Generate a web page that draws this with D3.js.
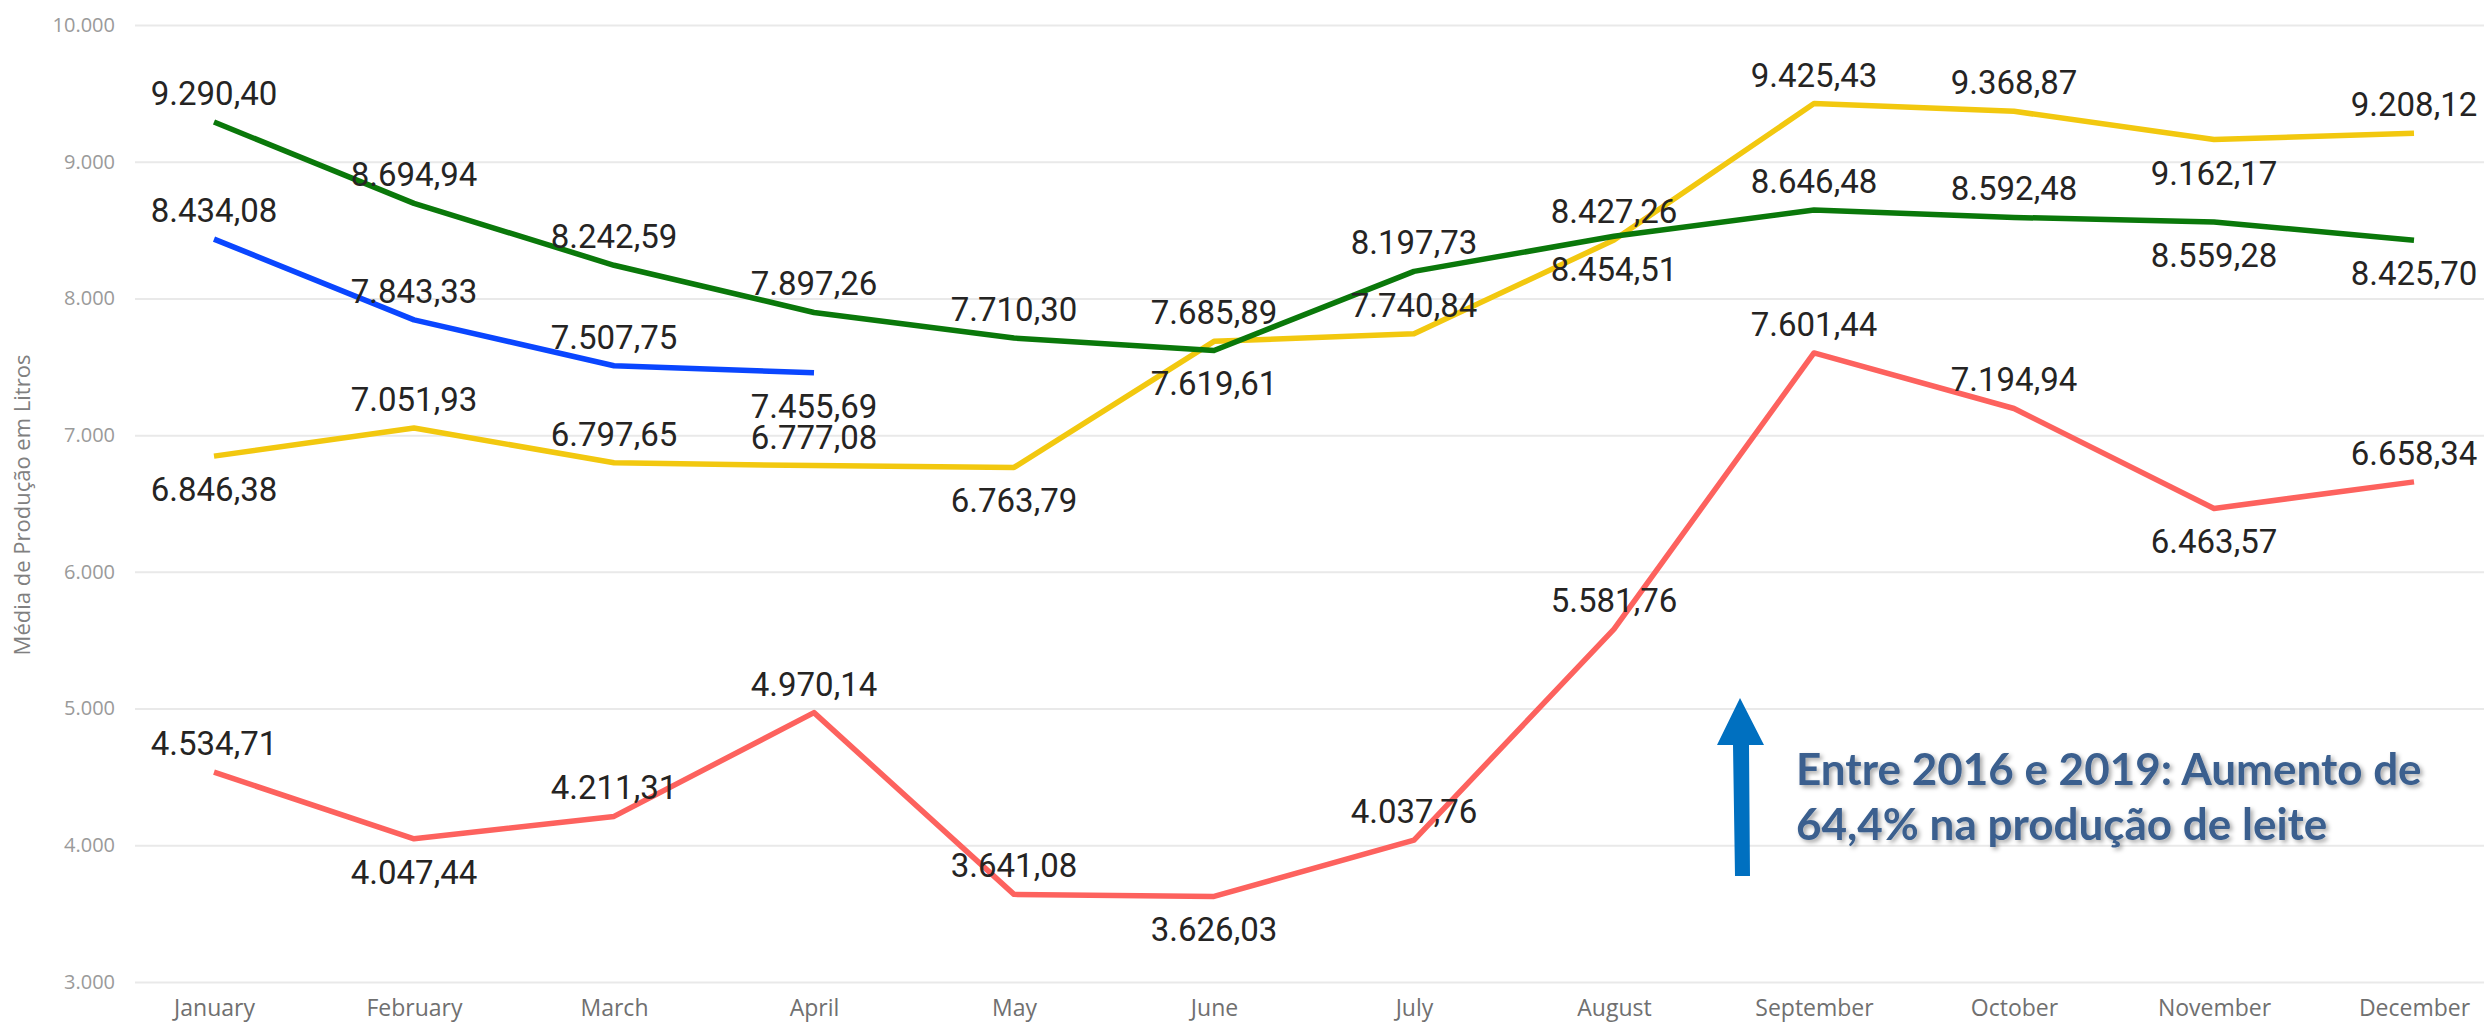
<!DOCTYPE html>
<html>
<head>
<meta charset="utf-8">
<script src="https://cdn.jsdelivr.net/npm/d3@7"></script>
<style>
  html, body { margin: 0; padding: 0; background: #fff; }
  svg { display: block; }
</style>
</head>
<body>
<svg id="chart" width="2484" height="1022"></svg>
<script>
// ---------- data ----------
const months = ["January","February","March","April","May","June","July","August","September","October","November","December"];
const yTicks = [3000, 4000, 5000, 6000, 7000, 8000, 9000, 10000];

const values2016 = [4534.71, 4047.44, 4211.31, 4970.14, 3641.08, 3626.03, 4037.76, 5581.76, 7601.44, 7194.94, 6463.57, 6658.34];
const values2017 = [6846.38, 7051.93, 6797.65, 6777.08, 6763.79, 7685.89, 7740.84, 8427.26, 9425.43, 9368.87, 9162.17, 9208.12];
const values2018 = [9290.40, 8694.94, 8242.59, 7897.26, 7710.30, 7619.61, 8197.73, 8454.51, 8646.48, 8592.48, 8559.28, 8425.70];
const values2019 = [8434.08, 7843.33, 7507.75, 7455.69];

// label side per point (a = above, b = below), as placed in the original
const side2016 = ["a","b","a","a","a","b","a","a","a","a","b","a"];
const side2017 = ["b","a","a","a","b","a","a","a","a","a","b","a"];
const side2018 = ["a","a","a","a","a","b","a","b","a","a","b","b"];
const side2019 = ["a","a","a","b"];

const yAxisTitle = "Média de Produção em Litros";
const noteLines = ["Entre 2016 e 2019: Aumento de", "64,4% na produção de leite"];

// ---------- setup ----------
const locale = d3.formatLocale({decimal: ",", thousands: ".", grouping: [3], currency: ["R$ ", ""]});
const fmtTick = locale.format(",.0f");
const fmtVal = locale.format(",.2f");

const svg = d3.select("#chart");
const plotLeft = 135, plotRight = 2484, plotTop = 25, plotBottom = 982;

const x = d3.scalePoint().domain(months).range([214, 2414]);
const y = d3.scaleLinear().domain([3000, 10000]).range([plotBottom, plotTop]);

const defs = svg.append("defs");
const f = defs.append("filter").attr("id", "shadow").attr("x", "-10%").attr("y", "-30%").attr("width", "130%").attr("height", "180%");
f.append("feDropShadow").attr("dx", 2.5).attr("dy", 2.5).attr("stdDeviation", 2).attr("flood-color", "#000").attr("flood-opacity", 0.35);

// gridlines + y labels via axis
const yAxis = d3.axisLeft(y).tickValues(yTicks).tickFormat(fmtTick).tickSize(-(plotRight - plotLeft)).tickPadding(20);
const gy = svg.append("g").attr("transform", `translate(${plotLeft},0)`).call(yAxis);
gy.select(".domain").remove();
gy.selectAll(".tick line").attr("stroke", "#e9e9e9").attr("stroke-width", 2);
gy.selectAll(".tick text")
  .attr("fill", "#9a9a9a")
  .style("font-family", "'Open Sans', sans-serif")
  .style("font-size", "20px");

// x axis labels
const xAxis = d3.axisBottom(x).tickSize(0).tickPadding(0);
const gx = svg.append("g").attr("transform", `translate(0,${plotBottom})`).call(xAxis);
gx.select(".domain").remove();
gx.selectAll(".tick text")
  .attr("fill", "#707070")
  .attr("dy", null)
  .attr("y", 34)
  .style("font-family", "'Open Sans', sans-serif")
  .style("font-size", "23px");

// y axis title
svg.append("text")
  .attr("transform", `translate(30,505) rotate(-90)`)
  .attr("text-anchor", "middle")
  .attr("fill", "#808080")
  .style("font-family", "'Open Sans', sans-serif")
  .style("font-size", "22px")
  .text(yAxisTitle);

// ---------- series ----------
const series = [
  {name: "2017", values: values2017, sides: side2017, color: "#F2C80F"},
  {name: "2019", values: values2019, sides: side2019, color: "#0A46FF"},
  {name: "2016", values: values2016, sides: side2016, color: "#FD625E"},
  {name: "2018", values: values2018, sides: side2018, color: "#0A780A"}
];

const line = d3.line().x((d, i) => x(months[i])).y(d => y(d));

const gLines = svg.append("g");
series.forEach(s => {
  gLines.append("path")
    .datum(s.values)
    .attr("d", line)
    .attr("fill", "none")
    .attr("stroke", s.color)
    .attr("stroke-width", 5.5)
    .attr("stroke-linejoin", "round")
    .attr("stroke-linecap", "butt");
});

const gLabels = svg.append("g");
series.forEach(s => {
  gLabels.selectAll(null)
    .data(s.values)
    .join("text")
    .attr("x", (d, i) => x(months[i]))
    .attr("y", (d, i) => s.sides[i] === "a" ? y(d) - 17 : y(d) + 45)
    .attr("text-anchor", "middle")
    .attr("fill", "#252423")
    .style("font-family", "Roboto, sans-serif")
    .style("font-size", "33px")
    .text(d => fmtVal(d));
});

// ---------- annotation ----------
const ann = svg.append("g");
ann.append("path")
  .attr("d", "M1740,698 L1764,745 L1749,745 L1750,876 L1735,876 L1733,745 L1717,745 Z")
  .attr("fill", "#0070C0");

const note = ann.append("text")
  .attr("fill", "#3A5F8E")
  .attr("filter", "url(#shadow)")
  .style("font-family", "Lato, sans-serif")
  .style("font-weight", "700")
  .style("font-size", "44px");
noteLines.forEach((t, i) => {
  note.append("tspan").attr("x", 1796).attr("y", 785 + i * 55).text(t);
});
</script>
</body>
</html>
